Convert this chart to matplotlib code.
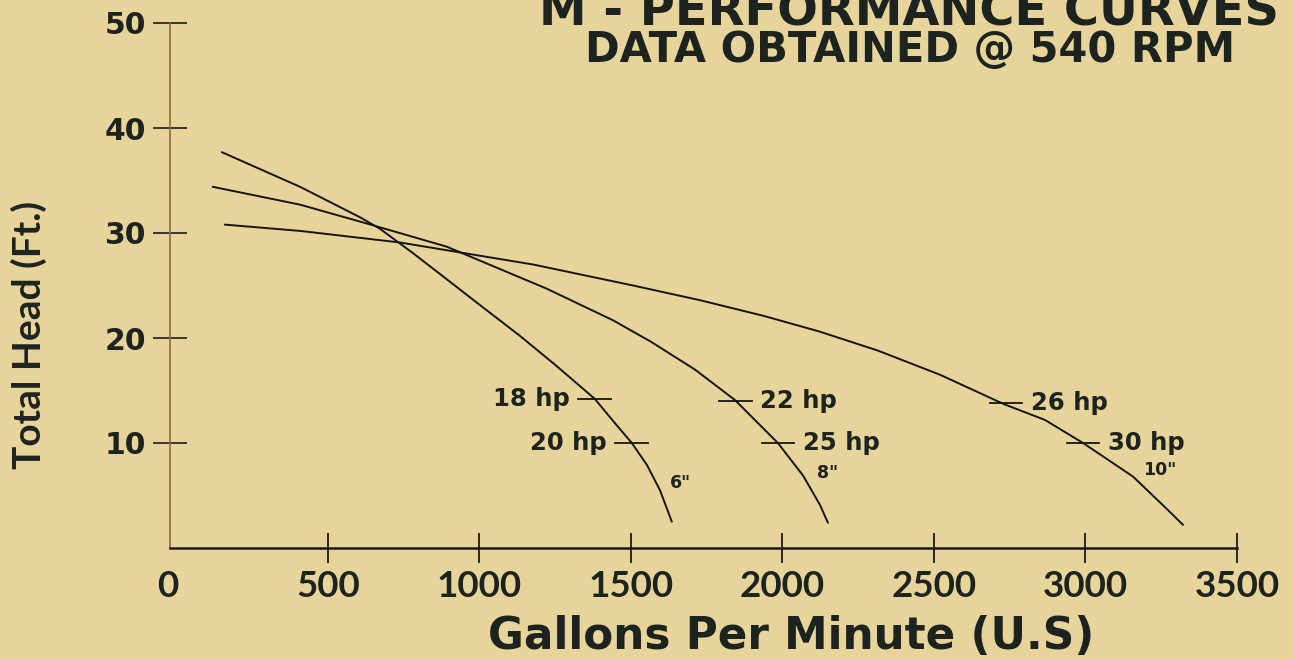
import matplotlib
matplotlib.use("Agg")
import matplotlib.pyplot as plt
from matplotlib.transforms import ScaledTranslation

# ---- data ----
gpm_6 = [150, 408, 606, 672, 780, 892, 1008, 1134, 1256, 1381, 1444, 1503, 1553, 1596, 1635]
head_6 = [37.7, 34.4, 31.5, 30.4, 28.1, 25.6, 23.0, 20.2, 17.3, 14.2, 12.0, 10.0, 7.9, 5.5, 2.5]

gpm_8 = [120, 408, 629, 892, 1222, 1440, 1563, 1711, 1843, 1985, 2068, 2124, 2150]
head_8 = [34.4, 32.7, 30.9, 28.7, 24.7, 21.7, 19.7, 17.0, 14.1, 10.0, 6.9, 4.1, 2.4]

gpm_10 = [160, 408, 737, 1177, 1507, 1728, 1939, 2124, 2315, 2520, 2731, 2866, 2992, 3157, 3269, 3322]
head_10 = [30.8, 30.2, 29.1, 27.0, 25.0, 23.6, 22.1, 20.6, 18.8, 16.5, 13.7, 12.2, 10.0, 6.8, 3.7, 2.2]

# horsepower markers
hp_gpm = [1381, 1503, 1845, 1985, 2738, 2992]
hp_head = [14.2, 10.0, 14.0, 10.0, 13.8, 10.0]
hp_labels = ["18 hp", "20 hp", "22 hp", "25 hp", "26 hp", "30 hp"]
hp_side = ["left", "left", "right", "right", "right", "right"]

# impeller size labels
size_labels = ['6"', '8"', '10"']
size_gpm = [1662, 2150, 3245]
size_head = [6.2, 7.1, 7.4]

x_ticks = [0, 500, 1000, 1500, 2000, 2500, 3000, 3500]
y_ticks = [10, 20, 30, 40, 50]

BG = "#E7D49B"
INK = "#1d231f"

fig = plt.figure(figsize=(12.94, 6.60), dpi=100, facecolor=BG)
ax = fig.add_axes([170 / 1294, 1 - 548 / 660, (1237 - 170) / 1294, (548 - 23) / 660])
ax.set_facecolor(BG)
ax.set_xlim(-21, 3500)
ax.set_ylim(0, 50)

for gx, gy in [(gpm_6, head_6), (gpm_8, head_8), (gpm_10, head_10)]:
    ax.plot(gx, gy, color="#141414", lw=1.4, solid_joinstyle="round", solid_capstyle="round")

# hp tick marks and labels
half = 54
for gx, gy, lab, side in zip(hp_gpm, hp_head, hp_labels, hp_side):
    ax.plot([gx - half, gx + half], [gy, gy], color="#141414", lw=1.3)
    if side == "left":
        ax.text(gx - half - 28, gy, lab, ha="right", va="center", fontsize=17.5,
                fontweight="bold", color=INK, family="DejaVu Sans")
    else:
        ax.text(gx + half + 28, gy, lab, ha="left", va="center", fontsize=17.5,
                fontweight="bold", color=INK, family="DejaVu Sans")

for lab, gx, gy in zip(size_labels, size_gpm, size_head):
    ax.text(gx, gy, lab, ha="center", va="center", fontsize=12.5, fontweight="bold",
            color=INK, family="DejaVu Sans")

# spines
for s in ["top", "right"]:
    ax.spines[s].set_visible(False)
ax.spines["left"].set_color("#8a6b3c")
ax.spines["left"].set_linewidth(1.2)
ax.spines["bottom"].set_color("#1a1a1a")
ax.spines["bottom"].set_linewidth(1.8)

ax.set_xticks(x_ticks)
ax.set_xticklabels([str(v) for v in x_ticks])
ax.set_yticks(y_ticks)
ax.set_yticklabels([str(v) for v in y_ticks])
ax.tick_params(axis="x", direction="inout", length=22, width=1.3, color="#1a1a1a",
               pad=5, labelsize=26.5, labelcolor=INK)
ax.tick_params(axis="y", direction="inout", length=25, width=1.3, color="#2a2a2a",
               pad=5, labelsize=21.5, labelcolor=INK)
for lbl in ax.get_xticklabels():
    lbl.set_family("Lato")
    lbl.set_fontweight("bold")
for lbl in ax.get_yticklabels():
    lbl.set_family("DejaVu Sans")
    lbl.set_fontweight("bold")

# tick mark at 0 coincides with the axis: hide it, nudge its label onto the spine
xt = ax.xaxis.get_major_ticks()
xt[0].tick1line.set_visible(False)
xt[0].tick2line.set_visible(False)
lab0 = xt[0].label1
lab0.set_transform(lab0.get_transform() + ScaledTranslation(-9 / 100, 0, fig.dpi_scale_trans))

ax.set_ylabel("Total Head (Ft.)", fontsize=28, fontweight="bold", family="Lato", color=INK)
ax.yaxis.set_label_coords(-0.115, 0.406)

fig.text(791 / 1294, 1 - 649 / 660, "Gallons Per Minute (U.S)", ha="center", va="baseline",
         fontsize=31.5, fontweight="bold", family="DejaVu Sans", color=INK)

fig.text(909 / 1294, 1 - 25 / 660, "M - PERFORMANCE CURVES", ha="center", va="baseline",
         fontsize=34.5, fontweight="bold", family="DejaVu Sans", color=INK)
fig.text(910 / 1294, 1 - 62 / 660, "DATA OBTAINED @ 540 RPM", ha="center", va="baseline",
         fontsize=30, fontweight="bold", family="DejaVu Sans", color=INK)

fig.savefig("out.png", dpi=100, facecolor=BG)
